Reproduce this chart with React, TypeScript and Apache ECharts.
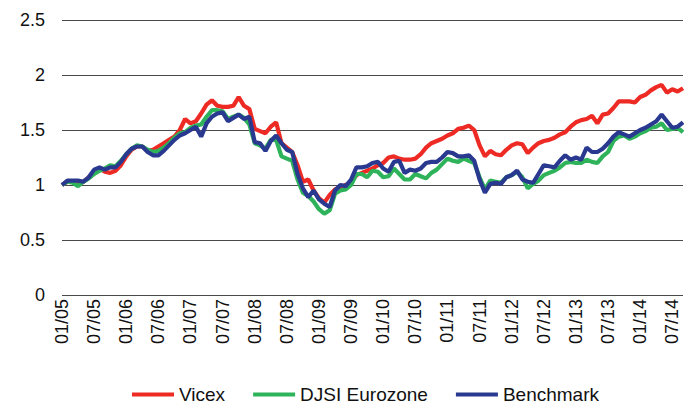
import React, { useEffect, useRef } from "react";
import * as echarts from "echarts";

const startYear = 2005;
const monthCount = 117; // 01/05 .. 09/14
const months: string[] = [];
for (let i = 0; i < monthCount; i++) {
  const m = (i % 12) + 1;
  const y = (startYear + Math.floor(i / 12)) % 100;
  months.push(`${m < 10 ? "0" + m : m}/${y < 10 ? "0" + y : y}`);
}

const yTicks = [0, 0.5, 1, 1.5, 2, 2.5];

const vicex = [
  1.0, 1.03, 1.03, 1.01, 1.03, 1.07, 1.12, 1.15, 1.12, 1.11, 1.13, 1.18,
  1.26, 1.32, 1.35, 1.35, 1.31, 1.32, 1.35, 1.38, 1.41, 1.44, 1.5, 1.6,
  1.56, 1.58, 1.65, 1.73, 1.77, 1.72, 1.71, 1.71, 1.72, 1.8, 1.72, 1.69,
  1.51, 1.49, 1.47, 1.53, 1.57, 1.38, 1.34, 1.3, 1.18, 1.03, 1.05, 0.95,
  0.88, 0.84, 0.91, 0.96, 0.98, 1.0, 1.03, 1.09, 1.11, 1.13, 1.15, 1.18,
  1.2, 1.25, 1.26, 1.24, 1.23, 1.23, 1.24, 1.28, 1.34, 1.38, 1.4, 1.42,
  1.45, 1.47, 1.51, 1.52, 1.54, 1.5, 1.36, 1.26, 1.31, 1.28, 1.27, 1.32,
  1.36, 1.38, 1.37, 1.29, 1.34, 1.38, 1.4, 1.41, 1.43, 1.46, 1.48, 1.53,
  1.57, 1.59, 1.6, 1.63, 1.56, 1.64, 1.65, 1.7, 1.76, 1.76, 1.76, 1.75,
  1.8, 1.82, 1.86, 1.89, 1.91, 1.84, 1.87, 1.85, 1.88,
];

const djsi = [
  1.0, 1.03, 1.02, 0.99, 1.03, 1.06, 1.1, 1.13, 1.15, 1.18, 1.17, 1.22,
  1.28, 1.33, 1.36, 1.35, 1.32, 1.3, 1.31, 1.34, 1.38, 1.43, 1.47, 1.48,
  1.52, 1.54, 1.55, 1.62, 1.68, 1.68, 1.67, 1.6, 1.62, 1.64, 1.61, 1.55,
  1.38, 1.36, 1.33, 1.41, 1.41, 1.26, 1.24, 1.22, 1.05, 0.93, 0.9, 0.85,
  0.78, 0.74, 0.77, 0.92, 0.95, 0.96, 1.0, 1.1, 1.1, 1.07, 1.13, 1.12,
  1.07, 1.08, 1.15, 1.1, 1.05, 1.05, 1.1, 1.08, 1.06, 1.11, 1.14, 1.19,
  1.24, 1.22, 1.21, 1.24, 1.22, 1.2, 1.07, 0.96, 1.04, 1.03, 1.02, 1.07,
  1.09, 1.12, 1.07, 0.97, 1.01, 1.04, 1.09, 1.11, 1.13, 1.16, 1.2, 1.21,
  1.2, 1.2, 1.23, 1.21, 1.2, 1.26, 1.3, 1.4, 1.44, 1.45, 1.42, 1.44,
  1.47, 1.49, 1.52, 1.53, 1.56, 1.5, 1.51, 1.52, 1.48,
];

const benchmark = [
  1.0, 1.04, 1.04, 1.04, 1.03, 1.07, 1.14, 1.16, 1.14, 1.16, 1.16, 1.21,
  1.28, 1.33, 1.35, 1.35, 1.3, 1.27, 1.27, 1.31, 1.36, 1.41, 1.45, 1.47,
  1.5, 1.53, 1.44, 1.56, 1.62, 1.65, 1.66, 1.58, 1.61, 1.64, 1.6, 1.62,
  1.39, 1.38, 1.31, 1.4, 1.45, 1.38, 1.32, 1.3, 1.1, 0.97, 0.89, 0.95,
  0.87, 0.83, 0.8, 0.95, 1.0, 0.99, 1.05, 1.16, 1.16, 1.17, 1.2, 1.21,
  1.15, 1.12, 1.21, 1.22, 1.11, 1.14, 1.13, 1.15, 1.2, 1.21, 1.21, 1.25,
  1.3, 1.29, 1.26, 1.26, 1.27, 1.22, 1.05, 0.93, 1.01, 1.02, 1.01, 1.07,
  1.09, 1.13, 1.05, 1.03, 1.02, 1.1, 1.18, 1.17, 1.16, 1.22, 1.27, 1.23,
  1.25, 1.23, 1.34, 1.3, 1.3, 1.33, 1.38, 1.44, 1.48, 1.46, 1.44, 1.47,
  1.5, 1.52, 1.55, 1.58, 1.64, 1.58, 1.52, 1.53, 1.57,
];

const seriesNames = ["Vicex", "DJSI Eurozone", "Benchmark"];
const seriesColors = ["#ee2a24", "#2fb35a", "#2a3990"];

export default function App() {
  const ref = useRef<HTMLDivElement>(null);
  useEffect(() => {
    if (!ref.current) return;
    const chart = echarts.init(ref.current, null, { renderer: "svg" });
    const font = "'Liberation Sans', Arial, sans-serif";
    const dataSets = [vicex, djsi, benchmark];
    chart.setOption({
      animation: false,
      textStyle: { fontFamily: font },
      grid: { left: 62, right: 1, top: 20, bottom: 111, containLabel: false },
      legend: {
        top: 380,
        left: 127,
        icon: "rect",
        itemWidth: 42,
        itemHeight: 4,
        itemGap: 28,
        textStyle: {
          fontSize: 19,
          color: "#111",
          fontFamily: font,
        },
        data: seriesNames,
      },
      xAxis: {
        type: "category",
        data: months,
        boundaryGap: false,
        axisLine: { show: false },
        axisTick: { show: false },
        axisLabel: {
          interval: 5,
          rotate: 90,
          margin: 4,
          fontSize: 18,
          color: "#111",
          fontFamily: font,
        },
        splitLine: { show: false },
      },
      yAxis: {
        type: "value",
        min: yTicks[0],
        max: yTicks[yTicks.length - 1],
        interval: 0.5,
        axisLine: { show: false },
        axisTick: { show: false },
        axisLabel: {
          margin: 17,
          fontSize: 18,
          color: "#111",
          fontFamily: font,
          formatter: (v: number) => String(v),
        },
        splitLine: { show: true, lineStyle: { color: "#4a4a4a", width: 1 } },
      },
      series: dataSets.map((d, k) => ({
        name: seriesNames[k],
        type: "line",
        data: d,
        showSymbol: false,
        symbol: "none",
        color: seriesColors[k],
        lineStyle: { width: 4.2, color: seriesColors[k] },
        z: k + 2,
      })),
    });
    return () => chart.dispose();
  }, []);
  return (
    <div
      ref={ref}
      style={{ position: "absolute", left: 0, top: 0, width: 684, height: 406, background: "#fff" }}
    />
  );
}
